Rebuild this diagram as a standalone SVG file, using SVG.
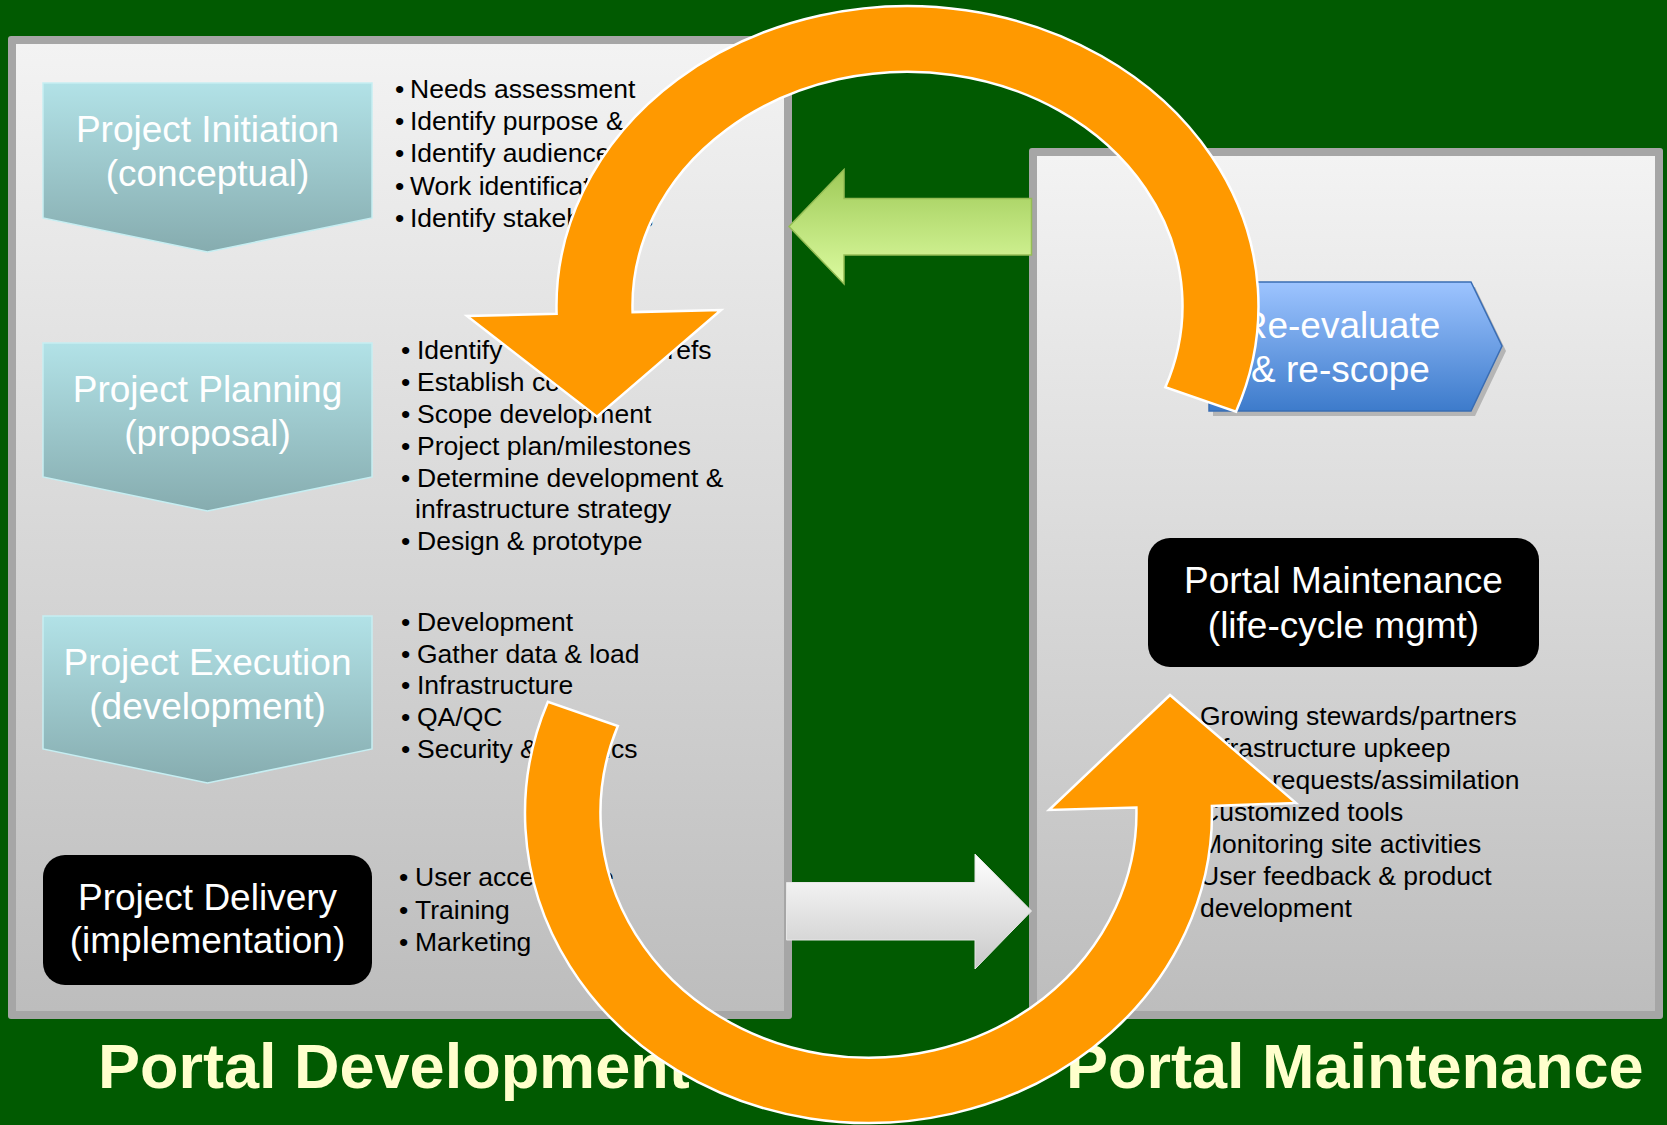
<svg xmlns="http://www.w3.org/2000/svg" width="1667" height="1125" viewBox="0 0 1667 1125">
<style>
.bul{font-family:"Liberation Sans",Arial,sans-serif;font-size:26.5px;fill:#000}
.ttl{font-family:"Liberation Sans",Arial,sans-serif;font-size:37px;fill:#fff;text-anchor:middle}
.big{font-family:"Liberation Sans",Arial,sans-serif;font-size:63px;font-weight:bold;fill:#ffffcc}
.frame{fill:#a6a6a6}
.chev{fill:url(#gCyan);stroke:#c6eef2;stroke-width:1.5}
.blk{fill:#000}
.orange{fill:#ff9900;stroke:#fff;stroke-width:2.5;stroke-linejoin:miter}
</style>
<defs>
<linearGradient id="gPanel" x1="0" y1="0" x2="0" y2="1">
<stop offset="0" stop-color="#f3f3f3"/><stop offset="1" stop-color="#bdbdbd"/>
</linearGradient>
<linearGradient id="gCyan" x1="0" y1="0" x2="0" y2="1">
<stop offset="0" stop-color="#b2e2e7"/><stop offset="1" stop-color="#86acaf"/>
</linearGradient>
<linearGradient id="gBlue" x1="0" y1="0" x2="0" y2="1">
<stop offset="0" stop-color="#9dc4ff"/><stop offset="1" stop-color="#3d7bcb"/>
</linearGradient>
<linearGradient id="gGreen" x1="0" y1="0" x2="0" y2="1">
<stop offset="0" stop-color="#9fca58"/><stop offset="1" stop-color="#dcfba0"/>
</linearGradient>
<linearGradient id="gWhite" x1="0" y1="0" x2="0" y2="1">
<stop offset="0" stop-color="#ffffff"/><stop offset="1" stop-color="#c9c9c9"/>
</linearGradient>
</defs>

<rect x="0" y="0" width="1667" height="1125" fill="#015a01"/>

<g id="panel-development">
<rect class="frame" x="8" y="36" width="784" height="983" rx="3"/>
<rect x="16" y="44" width="768" height="967" fill="url(#gPanel)"/>
</g>
<g id="panel-maintenance">
<rect class="frame" x="1029" y="148" width="634" height="871" rx="3"/>
<rect x="1037" y="156" width="618" height="855" fill="url(#gPanel)"/>
</g>

<g id="node-initiation">
<path class="chev" d="M43,83 H372 V218 L207.5,252 L43,218 Z"/>
<text class="ttl" x="207.5" y="142">Project Initiation</text>
<text class="ttl" x="207.5" y="186">(conceptual)</text>
</g>
<g id="list-initiation" class="bul">
<text x="395" y="98">•</text><text x="410" y="98">Needs assessment</text>
<text x="395" y="130">•</text><text x="410" y="130">Identify purpose &amp;</text>
<text x="395" y="162">•</text><text x="410" y="162">Identify audience</text>
<text x="395" y="194.5">•</text><text x="410" y="194.5">Work identification</text>
<text x="395" y="226.5">•</text><text x="410" y="226.5">Identify stakeholders</text>
</g>

<g id="node-planning">
<path class="chev" d="M43,343 H372 V477 L207.5,511 L43,477 Z"/>
<text class="ttl" x="207.5" y="402">Project Planning</text>
<text class="ttl" x="207.5" y="446">(proposal)</text>
</g>
<g id="list-planning" class="bul">
<text x="401" y="359">•</text><text x="417" y="359">Identify</text><text x="711.5" y="359" text-anchor="end">refs</text>
<text x="401" y="391">•</text><text x="417" y="391">Establish co</text>
<text x="401" y="423">•</text><text x="417" y="423">Scope development</text>
<text x="401" y="455">•</text><text x="417" y="455">Project plan/milestones</text>
<text x="401" y="486.5">•</text><text x="417" y="486.5">Determine development &amp;</text>
<text x="415" y="518">infrastructure strategy</text>
<text x="401" y="550">•</text><text x="417" y="550">Design &amp; prototype</text>
</g>

<g id="node-execution">
<path class="chev" d="M43,616 H372 V749 L207.5,783 L43,749 Z"/>
<text class="ttl" x="207.5" y="674.5">Project Execution</text>
<text class="ttl" x="207.5" y="718.5">(development)</text>
</g>
<g id="list-execution" class="bul">
<text x="401" y="630.5">•</text><text x="417" y="630.5">Development</text>
<text x="401" y="662.5">•</text><text x="417" y="662.5">Gather data &amp; load</text>
<text x="401" y="694">•</text><text x="417" y="694">Infrastructure</text>
<text x="401" y="726">•</text><text x="417" y="726">QA/QC</text>
<text x="401" y="757.5">•</text><text x="417" y="757.5">Security &amp;</text><text x="637.5" y="757.5" text-anchor="end">ics</text>
</g>

<g id="node-delivery">
<rect class="blk" x="43" y="855" width="329" height="130" rx="22"/>
<text class="ttl" x="207.5" y="909.5">Project Delivery</text>
<text class="ttl" x="207.5" y="952.5">(implementation)</text>
</g>
<g id="list-delivery" class="bul">
<text x="399" y="886">•</text><text x="415" y="886">User acceptance</text>
<text x="399" y="918.5">•</text><text x="415" y="918.5">Training</text>
<text x="399" y="951">•</text><text x="415" y="951">Marketing</text>
</g>

<g id="node-reevaluate">
<path d="M1213,287 H1475 L1506,351 L1475,416 H1213 Z" fill="#b5b5b5"/>
<path d="M1209,282 H1471 L1502,346 L1471,411 H1209 Z" fill="url(#gBlue)" stroke="#3a6db3" stroke-width="1.5"/>
<text class="ttl" x="1340.5" y="337.5">Re-evaluate</text>
<text class="ttl" x="1340.5" y="382">&amp; re-scope</text>
</g>

<g id="node-maintenance">
<rect class="blk" x="1148" y="538" width="391" height="129" rx="22"/>
<text class="ttl" x="1343.5" y="593">Portal Maintenance</text>
<text class="ttl" x="1343.5" y="637.5">(life-cycle mgmt)</text>
</g>
<g id="list-maintenance" class="bul">
<text x="1200" y="725">Growing stewards/partners</text>
<text x="1200" y="757">Infrastructure upkeep</text>
<text x="1272" y="789">requests/assimilation</text>
<text x="1200" y="821">Customized tools</text>
<text x="1200" y="853">Monitoring site activities</text>
<text x="1200" y="885">User feedback &amp; product</text>
<text x="1200" y="916.5">development</text>
</g>

<g id="titles">
<text class="big" x="98" y="1088">Portal Development</text>
<text class="big" x="1066" y="1088">Portal Maintenance</text>
</g>

<g id="connectors">
<path d="M789,226.5 L844,169.5 V198.5 H1031.5 V255 H844 V284 Z" fill="url(#gGreen)" stroke="#95bd55" stroke-width="1.5"/>
<path d="M786.5,882.5 H975 V854 L1031.5,911 L975,969 V940 H786.5 Z" fill="url(#gWhite)" stroke="#e6e6e6" stroke-width="1"/>
<path class="orange" d="M1236,411.7 A351,300 0 1 0 556.6,313.8 L467,316 L597,416.7 L721,310 L632.6,312.1 A275,234 0 1 1 1165.3,387.3 Z"/>
<path class="orange" d="M547.9,701.7 A343.5,310 0 1 0 1211.9,805.9 L1296,803 L1170,695 L1049,810 L1136.4,807.6 A268,245 0 1 1 617.8,726 Z"/>
</g>
</svg>
